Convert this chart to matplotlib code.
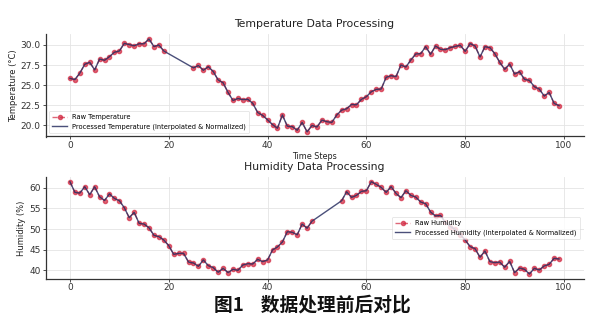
import numpy as np
import pandas as pd
import matplotlib
matplotlib.use("Agg")
import matplotlib.pyplot as plt

# values (nan = missing raw readings)
nan = np.nan
time_steps = np.arange(100)

raw_temp = [25.85, 25.7, 26.5, 27.6, 27.85, 26.9, 28.25, 28.1, 28.55, 29.1,
            29.25, 30.2, 30.05, 29.9, 30.15, 30.15, 30.75, 29.8, 30.0, 29.25,
            nan, nan, nan, nan, nan, 27.15, 27.45, 26.85, 27.3, 26.7,
            25.65, 25.3, 24.1, 23.1, 23.35, 23.2, 23.25, 22.75, 21.6, 21.25,
            20.7, 20.1, 19.65, 21.3, 19.9, 19.85, 19.4, 20.37, 19.2, 20.0,
            19.8, 20.66, 20.46, 20.37, 21.29, 21.9, 22.07, 22.6, 22.57, 23.24,
            23.57, 24.19, 24.48, 24.52, 25.98, 26.18, 26.06, 27.51, 27.26, 28.13,
            28.88, 28.92, 29.79, 28.84, 29.88, 29.46, 29.42, 29.67, 29.83, 29.96,
            29.21, 30.17, 29.88, 28.51, 29.79, 29.67, 28.92, 27.84, 26.97, 27.63,
            26.39, 26.68, 25.73, 25.6, 24.81, 24.52, 23.65, 24.1, 22.74, 22.45]

raw_hum = [61.45, 58.87, 58.7, 60.24, 58.3, 60.24, 57.8, 56.9, 58.5, 57.4,
           56.85, 55.16, 52.74, 54.03, 51.37, 51.2, 50.3, 48.47, 48.15, 47.34,
           45.97, 43.87, 44.1, 44.1, 42.0, 41.77, 40.97, 42.5, 41.13, 40.65,
           39.52, 40.48, 39.44, 40.24, 40.0, 41.29, 41.6, 41.53, 42.66, 42.1,
           42.5, 44.92, 45.65, 46.85, 49.35, 49.2, 48.6, 51.2, 50.2, 51.9,
           nan, nan, nan, nan, nan, 56.85, 59.03, 57.66, 58.15, 59.11,
           59.27, 61.45, 60.81, 60.08, 58.87, 60.24, 58.63, 57.58, 59.27, 58.15,
           57.74, 56.53, 56.13, 54.11, 53.15, 53.3, 51.6, 50.6, 49.9, 48.6,
           47.34, 45.73, 45.24, 43.15, 44.68, 42.1, 41.85, 42.0, 40.73, 42.18,
           39.44, 40.56, 40.24, 39.11, 40.48, 40.08, 41.05, 41.45, 42.9, 42.74]

proc_temp = pd.Series(raw_temp).interpolate().to_numpy()
proc_hum = pd.Series(raw_hum).interpolate().to_numpy()

W, H = 597, 325
fig = plt.figure(figsize=(W / 100, H / 100), dpi=100)

raw_color = "#d1263f"
proc_color = "#2b3163"


def style_axes(ax):
    for s in ["top", "right"]:
        ax.spines[s].set_visible(False)
    for s in ["left", "bottom"]:
        ax.spines[s].set_color("#333333")
        ax.spines[s].set_linewidth(0.9)
    ax.grid(True, color="#e4e4e4", linewidth=0.6)
    ax.set_axisbelow(True)
    ax.tick_params(labelsize=6.5, colors="#333333", length=2, width=0.6, pad=1.5)
    ax.set_xticks([0, 20, 40, 60, 80, 100])


def panel(rect, raw, proc, title, ylabel, raw_lab, proc_lab, loc, yticks):
    ax = fig.add_axes(rect)
    ax.plot(time_steps, raw, "--o", color=raw_color, lw=1.0, ms=3.0,
            alpha=0.7, label=raw_lab, zorder=2)
    ax.plot(time_steps, proc, "-", color=proc_color, lw=1.0, alpha=0.85,
            label=proc_lab, zorder=3)
    style_axes(ax)
    ax.set_yticks(yticks)
    ax.set_title(title, fontsize=7.8, color="#222222", pad=5)
    ax.set_xlabel("Time Steps", fontsize=5.8, color="#222222", labelpad=1)
    ax.set_ylabel(ylabel, fontsize=6, color="#222222", labelpad=2)
    leg = ax.legend(loc=loc, fontsize=4.8, frameon=True, borderpad=0.5,
                    handlelength=2.2, labelspacing=0.5)
    leg.get_frame().set_linewidth(0.4)
    return ax


def rect(l, t, r, b):
    return [l / W, 1 - b / H, (r - l) / W, (b - t) / H]


panel(rect(45.5, 34.3, 583.5, 136.5), raw_temp, proc_temp,
      "Temperature Data Processing", "Temperature (°C)",
      "Raw Temperature", "Processed Temperature (Interpolated & Normalized)",
      "lower left", [20.0, 22.5, 25.0, 27.5, 30.0])

panel(rect(45.5, 177.1, 583.5, 278.6), raw_hum, proc_hum,
      "Humidity Data Processing", "Humidity (%)",
      "Raw Humidity", "Processed Humidity (Interpolated & Normalized)",
      "center right", [40, 45, 50, 55, 60])

fig.text(312 / W, 1 - 305 / H, "图1    数据处理前后对比",
         ha="center", va="center", fontsize=13.5, fontweight="bold",
         family=["Noto Sans CJK SC", "DejaVu Sans"], color="#111111",
         bbox=dict(facecolor="white", edgecolor="none", pad=3))

fig.savefig("out.png", dpi=100)
